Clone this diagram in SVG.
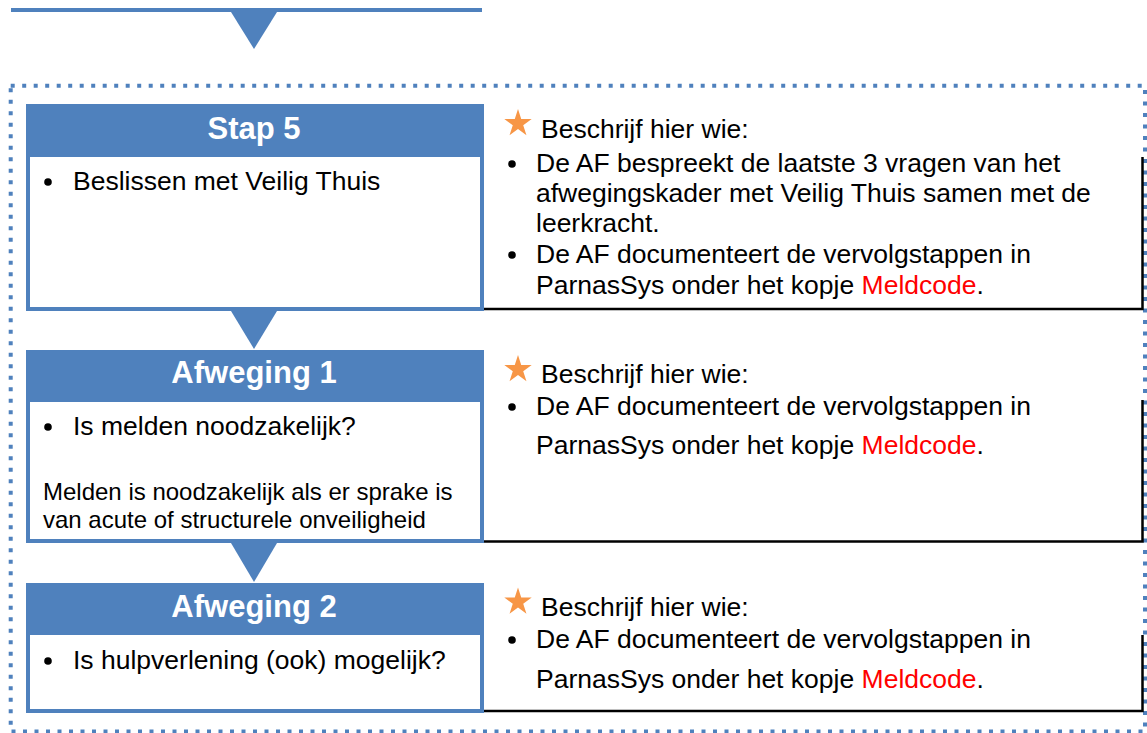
<svg xmlns="http://www.w3.org/2000/svg" xmlns:xlink="http://www.w3.org/1999/xlink" width="1147" height="733" viewBox="0 0 1147 733">
<style>
.hdr{fill:#4F81BD}
.box{fill:#fff;stroke:#4F81BD;stroke-width:4}
.tri{fill:#4F81BD}
.ttl{font-family:"Liberation Sans",Arial,sans-serif;font-weight:bold;font-size:31px;fill:#fff;text-anchor:middle}
.txt{font-family:"Liberation Sans",Arial,sans-serif;font-size:26.5px;fill:#000}
.sm{font-family:"Liberation Sans",Arial,sans-serif;font-size:24px;fill:#000}
.red{fill:#FF0000}
.blk{stroke:#000;stroke-width:2.5;fill:none}
.dot{fill:#000}
.star{fill:#F79646}
</style>
<defs>
<polygon id="star" points="0,-14.4 3.23,-4.45 13.7,-4.45 5.23,1.7 8.46,11.65 0,5.5 -8.46,11.65 -5.23,1.7 -13.7,-4.45 -3.23,-4.45"/>
</defs>
<rect width="1147" height="733" fill="#fff"/>

<g id="frame">
<line x1="11" y1="10" x2="482" y2="10" stroke="#4F81BD" stroke-width="4"/>
<rect x="10.7" y="85.8" width="1134.3" height="645.7" fill="none" stroke="#4F81BD" stroke-width="4" stroke-dasharray="4 7.5"/>
</g>

<g id="connectors">
<polygon class="tri" points="231,12 277,12 254,49"/>
<polygon class="tri" points="231,311 277,311 254,349"/>
<polygon class="tri" points="231,543 277,543 254,582"/>
</g>

<g id="stap5">
<rect class="box" x="28" y="106" width="454" height="203"/>
<rect class="hdr" x="26" y="104" width="458" height="53"/>
<text class="ttl" x="254" y="139">Stap 5</text>
<circle class="dot" cx="48" cy="182" r="3.8"/>
<text class="txt" x="73" y="190">Beslissen met Veilig Thuis</text>
</g>

<g id="stap5-info">
<polyline class="blk" points="484,309 1142.5,309 1142.5,157"/>
<use href="#star" class="star" x="518" y="123.5"/>
<text class="txt" x="541" y="138">Beschrijf hier wie:</text>
<circle class="dot" cx="512" cy="164" r="3.8"/>
<text class="txt" x="536" y="172">De AF bespreekt de laatste 3 vragen van het</text>
<text class="txt" x="536" y="202">afwegingskader met Veilig Thuis samen met de</text>
<text class="txt" x="536" y="232">leerkracht.</text>
<circle class="dot" cx="512" cy="255" r="3.8"/>
<text class="txt" x="536" y="263">De AF documenteert de vervolgstappen in</text>
<text class="txt" x="536" y="294">ParnasSys onder het kopje <tspan class="red">Meldcode</tspan>.</text>
</g>

<g id="afweging1">
<rect class="box" x="28" y="352" width="454" height="189"/>
<rect class="hdr" x="26" y="350" width="458" height="52"/>
<text class="ttl" x="254" y="383">Afweging 1</text>
<circle class="dot" cx="48" cy="427" r="3.8"/>
<text class="txt" x="73" y="435">Is melden noodzakelijk?</text>
<text class="sm" x="43" y="500">Melden is noodzakelijk als er sprake is</text>
<text class="sm" x="43" y="528">van acute of structurele onveiligheid</text>
</g>

<g id="afweging1-info">
<polyline class="blk" points="484,541.5 1142.5,541.5 1142.5,400"/>
<use href="#star" class="star" x="518" y="369.5"/>
<text class="txt" x="541" y="383">Beschrijf hier wie:</text>
<circle class="dot" cx="512" cy="407" r="3.8"/>
<text class="txt" x="536" y="415">De AF documenteert de vervolgstappen in</text>
<text class="txt" x="536" y="454">ParnasSys onder het kopje <tspan class="red">Meldcode</tspan>.</text>
</g>

<g id="afweging2">
<rect class="box" x="28" y="585" width="454" height="126"/>
<rect class="hdr" x="26" y="583" width="458" height="52"/>
<text class="ttl" x="254" y="617">Afweging 2</text>
<circle class="dot" cx="48" cy="661" r="3.8"/>
<text class="txt" x="73" y="669">Is hulpverlening (ook) mogelijk?</text>
</g>

<g id="afweging2-info">
<polyline class="blk" points="484,711 1142.5,711 1142.5,635"/>
<use href="#star" class="star" x="518" y="602"/>
<text class="txt" x="541" y="616">Beschrijf hier wie:</text>
<circle class="dot" cx="512" cy="640" r="3.8"/>
<text class="txt" x="536" y="648">De AF documenteert de vervolgstappen in</text>
<text class="txt" x="536" y="688">ParnasSys onder het kopje <tspan class="red">Meldcode</tspan>.</text>
</g>
</svg>
